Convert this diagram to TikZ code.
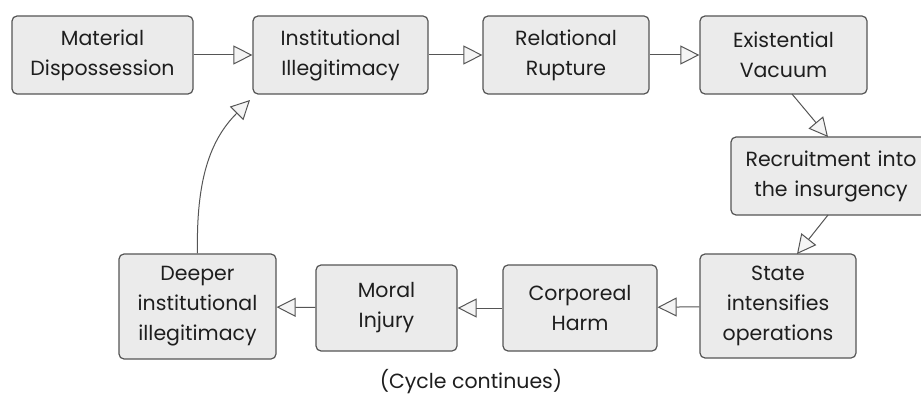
\documentclass[tikz,border=0pt]{standalone}
\usepackage{fontspec}
\setmainfont{Poppins}
\usetikzlibrary{arrows.meta,calc}
\definecolor{boxfill}{HTML}{EBEBEB}
\definecolor{boxline}{HTML}{555555}
\definecolor{txt}{HTML}{1E1E1E}
\definecolor{headfill}{HTML}{F4F4F4}
\begin{document}
\begin{tikzpicture}[x=1pt,y=-1pt,
  stage/.style={draw=boxline,fill=boxfill,line width=1.2pt,rounded corners=5pt,
    text=txt,align=center,font=\fontsize{20.5}{30}\selectfont,inner sep=0pt},
  flow/.style={draw=boxline,line width=1pt,
    -{Triangle[length=19pt,width=19pt,open,fill=headfill,line width=1pt]}}]
\useasboundingbox (0,0) rectangle (921,401);
\begin{scope}
\clip (0,0) rectangle (921,401);
\node[stage,minimum width=181pt,minimum height=78pt] (mat) at (102.5,55) {Material\\Dispossession};
\node[stage,minimum width=175pt,minimum height=78pt] (inst) at (340.5,55) {Institutional\\Illegitimacy};
\node[stage,minimum width=166pt,minimum height=78pt] (rel) at (566,55) {Relational\\Rupture};
\node[stage,minimum width=167pt,minimum height=78pt] (ex) at (783.5,55) {Existential\\Vacuum};
\node[stage,minimum width=200pt,minimum height=78pt,text width=200pt] (rec) at (831,176) {Recruitment into\\the insurgency};
\node[stage,minimum width=156pt,minimum height=104pt] (st) at (778,306) {State\\intensifies\\operations};
\node[stage,minimum width=154pt,minimum height=86pt] (cor) at (580,308) {Corporeal\\Harm};
\node[stage,minimum width=141pt,minimum height=86pt] (mor) at (386.5,308) {Moral\\Injury};
\node[stage,minimum width=157pt,minimum height=105pt] (dee) at (197.5,306.5) {Deeper\\institutional\\illegitimacy};
\node[text=txt,font=\fontsize{20.5}{30}\selectfont,inner sep=0pt] (cyc) at (471,382) {(Cycle continues)};
\coordinate (exo) at (792,94);
\coordinate (reci) at (828,137);
\coordinate (reco) at (828,215);
\coordinate (sti) at (797,254);
\coordinate (insi) at (250,100);
\draw[flow] (mat) -- (inst);
\draw[flow] (inst) -- (rel);
\draw[flow] (rel) -- (ex);
\draw[flow] (exo) -- (reci);
\draw[flow] (reco) -- (sti);
\draw[flow] (st) -- (cor);
\draw[flow] (cor) -- (mor);
\draw[flow] (mor) -- (dee);
\draw[flow] (dee.north) .. controls (196,180) and (210,140) .. (insi);
\end{scope}
\end{tikzpicture}
\end{document}
